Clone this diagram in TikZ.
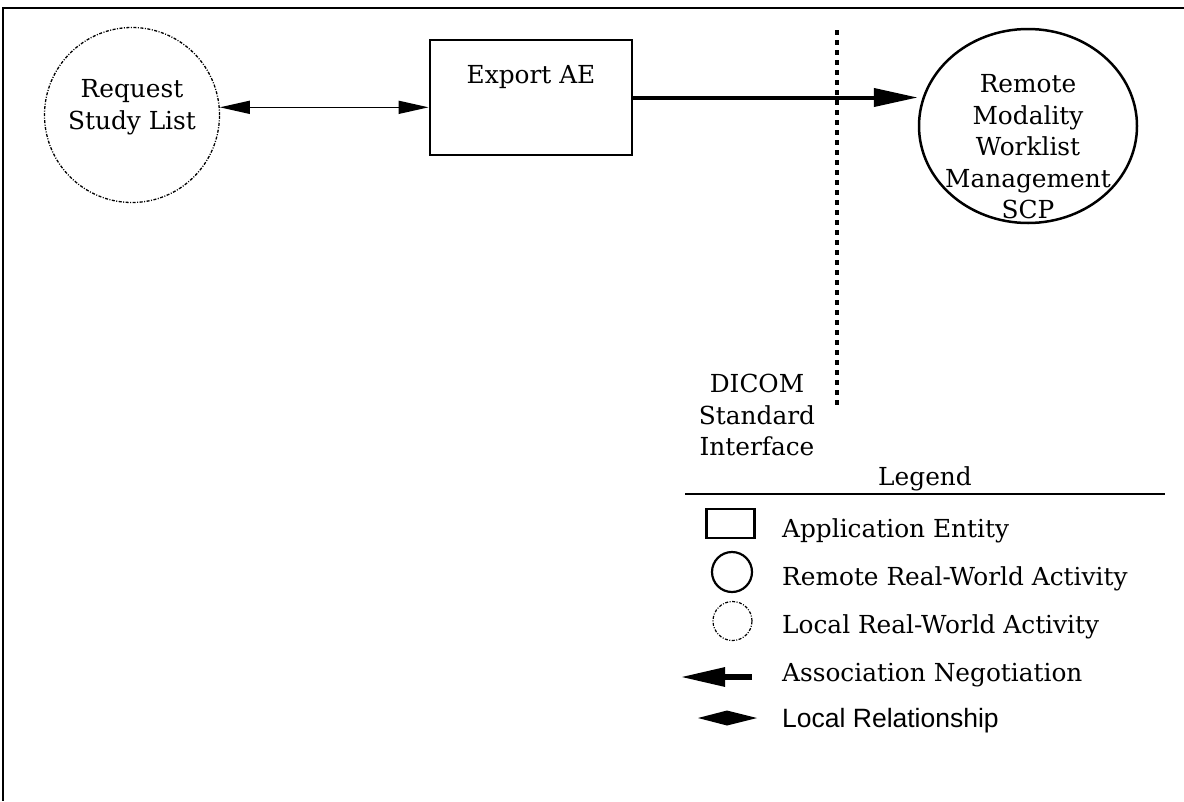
\documentclass[tikz,border=0pt]{standalone}
\usepackage{fontspec}
\setmainfont{DejaVu Serif}
\newfontfamily\lsans{Liberation Sans}
\usetikzlibrary{arrows.meta,shapes.geometric}
\begin{document}
\begin{tikzpicture}[x=1pt,y=-1pt,
  txt/.style={font=\fontsize{24.8}{31.5}\selectfont, align=center, inner sep=0pt},
  ltxt/.style={font=\fontsize{24.8}{28}\selectfont, anchor=base west, inner sep=0pt},
  localact/.style={circle, draw, line width=1.3pt, dash pattern=on 3pt off 1.5pt on 1pt off 1.5pt},
  remoteact/.style={ellipse, draw, line width=2.5pt},
  aebox/.style={rectangle, draw, line width=2.8pt},
]
\useasboundingbox (0,0) rectangle (1184,801);
% frame
\draw[line width=2.5pt] (1184,8) -- (3,8) -- (3,801);
% main nodes
\node[localact, minimum size=175pt] (req) at (132,115) {};
\node[txt] (reqt) at (132,107) {Request\\Study List};
\node[aebox, minimum width=202pt, minimum height=115pt] (ae) at (531,97.5) {};
\node[txt] (aet) at (531,77) {Export AE};
\node[remoteact, minimum width=218pt, minimum height=194pt] (scp) at (1028,126) {};
\node[txt] (scpt) at (1028,147) {Remote\\Modality\\Worklist\\Management\\SCP};
% connectors
\draw[line width=1.5pt, {Triangle[length=30pt,width=13pt]}-{Triangle[length=30pt,width=13pt]}]
  (req.5) -- (req.5 -| ae.west);
\draw[line width=4pt, -{Triangle[length=44pt,width=18pt]}] (ae.east) -- (ae.east -| scp.west);
% DICOM interface
\coordinate (dtop) at (837,30);
\coordinate (dbot) at (837,405);
\draw[line width=4.5pt, dash pattern=on 5pt off 5pt] (dtop) -- (dbot);
\node[txt] (dicom) at (757,415) {DICOM\\Standard\\Interface};
% legend
\coordinate (lgl) at (685,494);
\coordinate (lgr) at (1165,494);
\draw[line width=2pt] (lgl) -- (lgr);
\node[txt, anchor=base] (lgt) at (925,485) {Legend};
\node[aebox, line width=2.5pt, minimum width=48pt, minimum height=29pt] (lrect) at (730.5,523.5) {};
\node[remoteact, circle, line width=2.2pt, minimum size=40pt] (lcirc) at (732,572) {};
\node[localact, line width=1.2pt, minimum size=39pt] (ldot) at (732.5,621) {};
\coordinate (la1) at (752,677);
\coordinate (la2) at (680,677);
\draw[line width=6pt, -{Triangle[length=45pt,width=18pt]}] (la1) -- (la2);
\coordinate (ld1) at (698,718);
\coordinate (ld2) at (757,718);
\fill (ld1) -- (727,710.5) -- (ld2) -- (727,725.5) -- cycle;
\node[ltxt] (l1) at (782,537) {Application Entity};
\node[ltxt] (l2) at (782,585) {Remote Real-World Activity};
\node[ltxt] (l3) at (782,633) {Local Real-World Activity};
\node[ltxt] (l4) at (782,681) {Association Negotiation};
\node[ltxt, font=\lsans\fontsize{26.5}{30}\selectfont] (l5) at (782,727) {Local Relationship};
\end{tikzpicture}
\end{document}
